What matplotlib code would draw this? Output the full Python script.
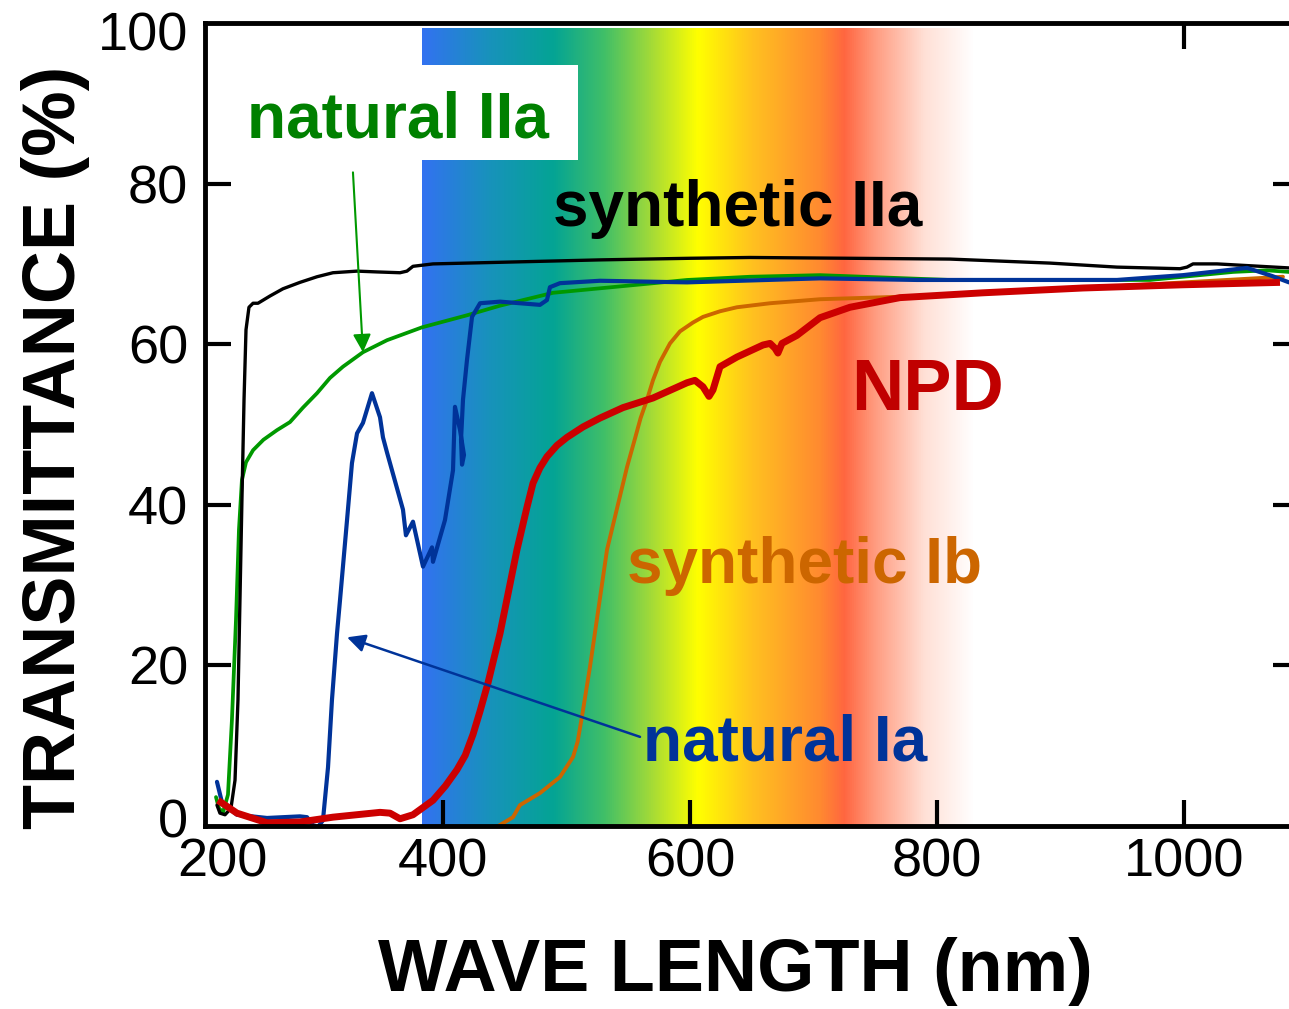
"""Optical transmittance spectra of diamond types (NPD vs. natural / synthetic)."""
import matplotlib
matplotlib.use("Agg")
import matplotlib.pyplot as plt
import numpy as np
from matplotlib.colors import LinearSegmentedColormap
from matplotlib.patches import Rectangle

plt.rcParams["font.family"] = ["Liberation Sans", "DejaVu Sans"]

# --- curves: wavelength (nm), transmittance (%) ---
syn2a_nm = [217.0, 219.4, 223.5, 228.3, 231.6, 234.0, 235.6, 237.2, 238.9, 240.5,
            242.9, 246.2, 250.2, 259.9, 270.4, 284.2, 298.0, 310.9, 330.4, 346.6,
            365.2, 370.8, 375.7, 391.9, 446.2, 527.1, 600.0, 648.6, 729.5, 810.5,
            891.5, 945.7, 996.7, 1002.4, 1007.3, 1026.7, 1085.0]
syn2a_t = [2.6, 1.6, 1.4, 2.2, 5.7, 15.7, 28.1, 40.6, 53.1, 61.8,
           64.6, 65.1, 65.1, 66.0, 66.9, 67.7, 68.4, 68.9, 69.1, 69.0,
           68.9, 69.1, 69.7, 70.0, 70.2, 70.5, 70.7, 70.8, 70.7, 70.6,
           70.1, 69.6, 69.4, 69.6, 70.0, 70.0, 69.5]

nat2a_nm = [216.2, 218.6, 221.9, 225.9, 229.1, 232.4, 234.8, 237.2, 240.5, 246.2,
            254.6, 265.6, 276.1, 286.6, 298.0, 308.5, 319.0, 335.2, 354.7, 383.0,
            419.4, 446.2, 489.1, 597.6, 648.6, 705.3, 810.5, 972.5, 1039.7, 1067.2,
            1085.0]
nat2a_t = [3.6, 2.2, 1.7, 3.9, 13.2, 25.7, 36.9, 43.1, 45.3, 46.8,
           48.1, 49.3, 50.3, 52.1, 53.9, 55.8, 57.2, 59.0, 60.5, 62.1,
           63.6, 64.8, 66.4, 68.0, 68.4, 68.6, 68.0, 68.0, 69.0, 69.2,
           69.0]

nat1a_nm = [217.0, 221.1, 233.2, 257.5, 284.2, 289.9, 294.7, 298.8, 302.8, 306.9,
            310.1, 314.2, 316.6, 322.3, 326.3, 330.4, 335.2, 342.5, 349.0, 351.4,
            354.7, 367.6, 370.0, 375.7, 383.8, 391.1, 391.9, 401.6, 408.1, 409.7,
            413.8, 417.0, 415.4, 414.6, 416.2, 419.4, 423.5, 430.0, 446.2, 478.5,
            484.2, 486.6, 494.7, 527.1, 597.6, 705.3, 783.8, 945.7, 999.2, 1051.0,
            1071.2, 1085.0]
nat1a_t = [5.5, 2.9, 1.4, 1.0, 1.2, 1.1, 0.1, -0.1, 0.7, 7.3,
           15.7, 24.0, 28.1, 38.1, 45.2, 48.9, 50.2, 53.9, 50.9, 48.4,
           46.5, 39.4, 36.2, 37.9, 32.3, 34.7, 32.9, 38.1, 44.3, 52.2,
           49.3, 46.2, 45.0, 48.1, 53.1, 58.0, 63.4, 65.1, 65.3, 64.9,
           65.5, 67.1, 67.6, 67.9, 67.7, 68.2, 68.0, 68.0, 68.6, 69.5,
           68.5, 67.7]

syn1b_nm = [443.7, 456.7, 462.3, 478.5, 494.7, 505.3, 509.0, 512.5, 519.0, 532.8,
            549.0, 555.0, 560.0, 565.2, 570.0, 575.7, 583.8, 591.9, 602.4, 610.5,
            624.3, 638.0, 664.8, 705.3, 810.5, 932.0, 1080.1]
syn1b_t = [-0.1, 1.1, 2.6, 4.1, 6.1, 8.6, 10.5, 13.6, 19.8, 34.4,
           44.7, 48.0, 50.8, 53.1, 55.5, 57.8, 60.1, 61.6, 62.7, 63.4,
           64.1, 64.6, 65.1, 65.6, 66.1, 67.1, 68.4]

npd_nm = [217.8, 233.2, 257.5, 284.2, 310.9, 349.0, 357.1, 365.2, 375.7, 391.9,
          402.0, 411.3, 418.0, 424.3, 430.0, 436.4, 446.2, 459.9, 468.0, 472.9,
          478.5, 484.2, 492.3, 500.4, 513.4, 527.1, 545.7, 570.0, 597.6, 604.0,
          610.5, 615.4, 618.6, 624.3, 638.0, 659.1, 664.8, 668.8, 671.2, 674.5,
          686.6, 705.3, 729.5, 770.0, 837.2, 918.2, 999.2, 1077.7]
npd_t = [3.2, 1.6, 0.4, 0.5, 1.1, 1.7, 1.6, 0.9, 1.4, 3.2,
         5.0, 7.0, 8.8, 11.4, 14.3, 17.8, 24.0, 34.4, 39.7, 42.7,
         44.6, 46.0, 47.4, 48.4, 49.7, 50.8, 52.1, 53.3, 55.2, 55.5,
         54.7, 53.5, 54.3, 57.2, 58.4, 59.9, 60.1, 59.5, 58.9, 60.1,
         61.1, 63.3, 64.6, 65.8, 66.4, 67.0, 67.4, 67.7]

# visible-spectrum backdrop: colour stops (nm)
spec_nm = [383, 436, 489, 530, 570, 606, 651, 705, 725, 750, 790, 830]
spec_col = ["#3272f0", "#1892bc", "#04a494", "#40bf68", "#a8dc35", "#ffff00",
            "#ffc020", "#ff8a30", "#ff6640", "#ff9c80", "#ffe0d6", "#ffffff"]

x_ticks = [221.1, 400, 600, 800, 1000]
x_ticklabels = ["200", "400", "600", "800", "1000"]
y_ticks = [1, 20, 40, 60, 80, 99]
y_ticklabels = ["0", "20", "40", "60", "80", "100"]

fig = plt.figure(figsize=(12.89, 10.09), dpi=100)
ax = fig.add_axes([205 / 1289, 1 - 826 / 1009, 1094 / 1289, 803 / 1009])
ax.set_xlim(207.3, 1093.1)
ax.set_ylim(0, 100)

# spectrum band
pos = (np.array(spec_nm) - spec_nm[0]) / (spec_nm[-1] - spec_nm[0])
cmap = LinearSegmentedColormap.from_list("vis", list(zip(pos, spec_col)))
grad = np.linspace(0, 1, 512)[None, :]
ax.imshow(grad, cmap=cmap, aspect="auto", interpolation="bilinear",
          extent=[spec_nm[0], spec_nm[-1], 0, 99.3], zorder=0)

# white box behind "natural IIa"
ax.add_patch(Rectangle((215, 82.9), 509.3 - 215, 94.8 - 82.9,
                       facecolor="white", edgecolor="none", zorder=1))

line = dict(solid_joinstyle="round", solid_capstyle="round")
ax.plot(nat2a_nm, nat2a_t, color="#009900", lw=2.7, zorder=3, **line)
ax.plot(syn1b_nm, syn1b_t, color="#cc6600", lw=2.8, zorder=3, **line)
ax.plot(syn2a_nm, syn2a_t, color="black", lw=2.4, zorder=4, **line)
ax.plot(nat1a_nm, nat1a_t, color="#003399", lw=3.0, zorder=4, **line)
ax.plot(npd_nm, npd_t, color="#cc0000", lw=5.0, zorder=5,
        solid_joinstyle="round", solid_capstyle="butt")

# labels
lab = dict(fontsize=46, fontweight="bold", ha="center", va="baseline", zorder=6)
ax.text(363.6, 85.8, "natural IIa", color="#008000", **lab)
ax.text(638.9, 74.7, "synthetic IIa", color="black", **lab)
ax.text(792.7, 51.8, "NPD", color="#c00000", fontsize=52, fontweight="bold",
        ha="center", va="baseline", zorder=6)
ax.text(693.0, 30.3, "synthetic Ib", color="#cc6600", **lab)
ax.text(677.0, 8.2, "natural Ia", color="#003399", **lab)

ax.annotate("", xy=(335.2, 59.0), xytext=(327.1, 81.4),
            arrowprops=dict(arrowstyle="-|>", color="#009900", lw=1.5,
                            mutation_scale=27, shrinkA=0, shrinkB=0), zorder=6)
ax.annotate("", xy=(322.3, 23.5), xytext=(559.5, 11.1),
            arrowprops=dict(arrowstyle="-|>", color="#003399", lw=1.8,
                            mutation_scale=27, shrinkA=0, shrinkB=0), zorder=6)

# axes styling
for s in ax.spines.values():
    s.set_linewidth(3.5)
    s.set_zorder(7)
ax.set_xticks(x_ticks)
ax.set_xticklabels(x_ticklabels)
ax.set_yticks(y_ticks)
ax.set_yticklabels(y_ticklabels)
ax.tick_params(direction="in", length=19, width=3, labelsize=39,
               top=True, right=True)
ax.tick_params(axis="x", pad=8)
ax.tick_params(axis="y", pad=12)
for t, v in zip(ax.xaxis.get_major_ticks(), x_ticks):
    t.tick1line.set_visible(v != 221.1)
    t.tick2line.set_visible(v == 1000)
for t, v in zip(ax.yaxis.get_major_ticks(), y_ticks):
    t.tick1line.set_visible(v not in (1, 99))
    t.tick2line.set_visible(v not in (1, 99))

fig.text(0.5702, 0.0178, "WAVE LENGTH (nm)", fontsize=53, fontweight="bold",
         ha="center", va="baseline")
fig.text(0.0582, 0.557, "TRANSMITTANCE (%)", fontsize=53, fontweight="bold",
         ha="center", va="baseline", rotation=90, rotation_mode="anchor")

fig.savefig("out.png", dpi=100)
